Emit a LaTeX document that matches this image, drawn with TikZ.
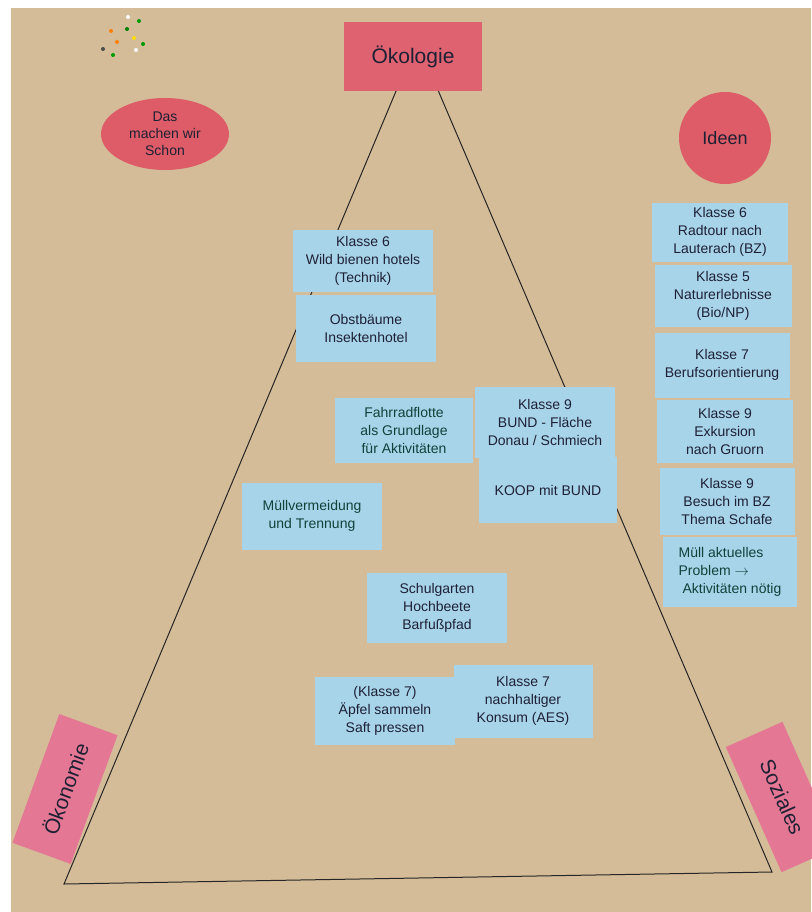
\documentclass[tikz,border=0pt]{standalone}
\usepackage{fontspec}
\setmainfont{Liberation Sans}
\usetikzlibrary{shapes.geometric}
\definecolor{paper}{RGB}{212,188,152}
\definecolor{cardblue}{RGB}{168,212,234}
\definecolor{pinkred}{RGB}{222,92,104}
\definecolor{pinkcard}{RGB}{228,120,148}
\definecolor{ink}{RGB}{30,32,52}
\definecolor{greenink}{RGB}{16,66,58}
\begin{document}
\begin{tikzpicture}[x=1pt,y=-1pt,
  card/.style={fill=cardblue,text=ink,align=center,inner sep=0pt,
    font=\fontsize{14}{18}\selectfont},
  tag/.style={fill=pinkcard,text=ink,inner sep=0pt,font=\fontsize{21}{24}\selectfont},
  pin/.style={circle,inner sep=0pt,minimum size=4pt}]
\useasboundingbox (0,0) rectangle (811,912);
\fill[white] (0,0) rectangle (811,912);
\fill[paper] (11,8) rectangle (811,912);
% pins
\foreach \px/\py/\pc in {128/17/white,139/21/green!60!black,111/31/orange,127/29/green!50!black,
  117/42/orange,134/38/yellow!80!orange,143/44/green!60!black,103/49/black!70,136/50/white,113/55/green!60!black}
  \node[pin,fill=\pc] at (\px,\py) {};
% triangle
\coordinate (top) at (417,41);
\coordinate (left) at (64,884);
\coordinate (right) at (772,872);
\draw[black!85,line width=1pt] (top) -- (left) -- (right) -- cycle;
% corners
\node[tag,fill=pinkred!80!pinkcard,minimum width=138pt,minimum height=69pt] (oeko) at (413,57) {Ökologie};
\node[tag,rotate=70,minimum width=137pt,minimum height=62pt] (oekon) at (65,789) {Ökonomie};
\node[tag,rotate=-66,minimum width=137pt,minimum height=62pt] (sozial) at (782,797) {Soziales};
\node[ellipse,fill=pinkred,text=ink,align=center,inner sep=0pt,minimum width=128pt,minimum height=72pt,
  font=\fontsize{14}{17}\selectfont] (schon) at (165,134) {Das\\machen wir\\Schon};
\node[circle,fill=pinkred,text=ink,inner sep=0pt,minimum size=92pt,font=\fontsize{18}{21}\selectfont] (ideen) at (725,138) {Ideen};
% cards in the triangle
\node[card,minimum width=140pt,minimum height=62pt] (wildbienen) at (363,261) {Klasse 6\\Wild bienen hotels\\(Technik)};
\node[card,minimum width=140pt,minimum height=67pt] (obst) at (366,328) {Obstbäume\\Insektenhotel};
\node[card,minimum width=138pt,minimum height=65pt,text=greenink] (fahrrad) at (404,430) {Fahrradflotte\\als Grundlage\\für Aktivitäten};
\node[card,minimum width=140pt,minimum height=71pt] (bund) at (545,422) {Klasse 9\\BUND - Fläche\\Donau / Schmiech};
\node[card,minimum width=138pt,minimum height=66pt] (koop) at (548,490) {KOOP mit BUND};
\node[card,minimum width=140pt,minimum height=67pt,text=greenink] (muell) at (312,516) {Müllvermeidung\\und Trennung};
\node[card,minimum width=140pt,minimum height=70pt] (garten) at (437,608) {Schulgarten\\Hochbeete\\Barfußpfad};
\node[card,minimum width=140pt,minimum height=68pt] (aepfel) at (385,711) {(Klasse 7)\\Äpfel sammeln\\Saft pressen};
\node[card,minimum width=139pt,minimum height=73pt] (konsum) at (523,701) {Klasse 7\\nachhaltiger\\Konsum (AES)};
% ideas column
\node[card,minimum width=136pt,minimum height=59pt] (radtour) at (720,232) {Klasse 6\\Radtour nach\\Lauterach (BZ)};
\node[card,minimum width=137pt,minimum height=62pt] (natur) at (723,296) {Klasse 5\\Naturerlebnisse\\(Bio/NP)};
\node[card,minimum width=135pt,minimum height=65pt] (beruf) at (722,365) {Klasse 7\\Berufsorientierung};
\node[card,minimum width=136pt,minimum height=63pt] (gruorn) at (725,431) {Klasse 9\\Exkursion\\nach Gruorn};
\node[card,minimum width=135pt,minimum height=67pt] (schafe) at (727,501) {Klasse 9\\Besuch im BZ\\Thema Schafe};
\node[card,minimum width=134pt,minimum height=70pt,text=greenink,align=left] (problem) at (730,572) {Müll aktuelles\\Problem {\Large$\rightarrow$}\\\ Aktivitäten nötig};
\end{tikzpicture}
\end{document}
